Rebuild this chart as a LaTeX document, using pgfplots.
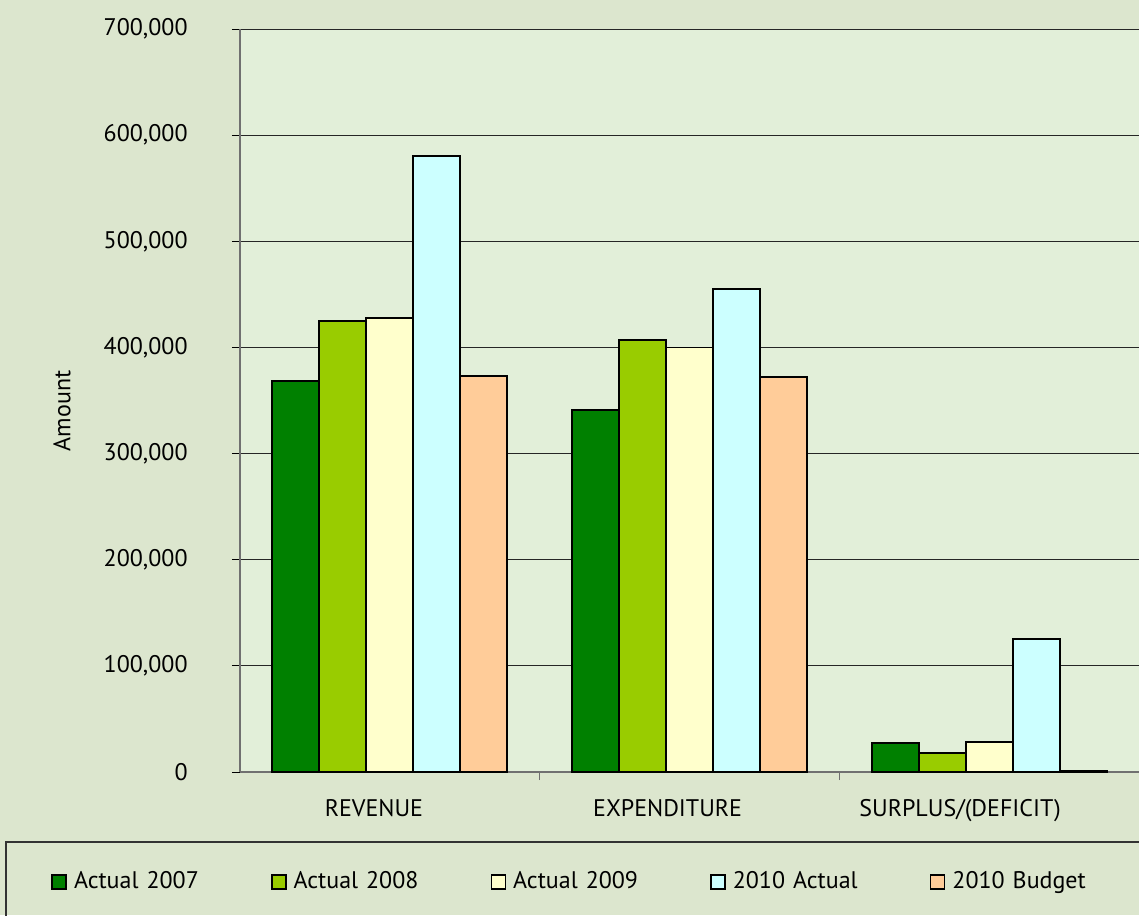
\documentclass[border=0pt]{standalone}
\usepackage{pgfplots}
\pgfplotsset{compat=1.18}
\usepackage{fontspec}
\setmainfont{PT Sans}
\definecolor{cA}{HTML}{008000}
\definecolor{cB}{HTML}{99CC00}
\definecolor{cC}{HTML}{FFFFCC}
\definecolor{cD}{HTML}{CCFFFF}
\definecolor{cE}{HTML}{FFCC99}
\definecolor{bgout}{HTML}{DCE6CE}
\definecolor{bgin}{HTML}{E2EFD9}
\definecolor{axgray}{HTML}{707070}
\pgfplotsset{/pgfplots/ybar legend/.style={/pgfplots/legend image code/.code={\draw[##1,draw=black,line width=0.8pt] (0pt,-3.5pt) rectangle (7pt,3.5pt);}}}
\begin{document}
\fontsize{12pt}{14pt}\selectfont
\begin{tikzpicture}
\fill[bgout] (0,0) rectangle (569.5pt,457.5pt);
\begin{axis}[
  at={(120pt,71.5pt)}, anchor=south west,
  scale only axis, width=449.5pt, height=371.5pt,
  axis background/.style={fill=bgin},
  ybar=0pt, bar width=23.5pt,
  xmin=-0.5, xmax=2.5, ymin=0, ymax=700000,
  axis x line*=bottom, axis y line*=left,
  axis line style={draw=axgray, line width=0.7pt},
  xtick={-0.053,0.927,1.903},
  xticklabels={REVENUE,EXPENDITURE,SURPLUS/(DEFICIT)},
  minor xtick={0.5,1.5},
  major x tick style={draw=none},
  minor x tick style={draw=axgray, line width=0.7pt},
  minor tick length=4pt,
  ytick={0,100000,...,700000},
  major tick length=4pt,
  tick align=outside,
  y tick style={draw=black, line width=0.5pt},
  ymajorgrids, grid style={draw=black!85, line width=0.5pt},
  scaled y ticks=false,
  y tick label style={/pgf/number format/fixed, /pgf/number format/1000 sep={,}, /pgf/number format/assume math mode=true, /tikz/xshift=-18pt},
  xticklabel style={yshift=-5.5pt},
  ylabel={Amount},
  ylabel style={at={(axis description cs:-0.198,0.486)}, anchor=center},
  legend columns=5,
  legend cell align=left,
  legend style={draw=none, fill=none, inner sep=0pt,
    at={(axis description cs:-0.2102,-0.148)}, anchor=west,
    nodes={inner sep=0pt, inner xsep=3.5pt, text width=72pt, align=left},
    /tikz/every even column/.append style={column sep=23pt}},
  every axis plot/.append style={draw=black, line width=0.9pt},
]
\addplot[fill=cA] coordinates {(0,368000) (1,341000) (2,27000)};
\addplot[fill=cB] coordinates {(0,425000) (1,407000) (2,18000)};
\addplot[fill=cC] coordinates {(0,428000) (1,400000) (2,28000)};
\addplot[fill=cD] coordinates {(0,580000) (1,455000) (2,125000)};
\addplot[fill=cE] coordinates {(0,373000) (1,372000) (2,1000)};
\legend{Actual 2007,Actual 2008,Actual 2009,2010 Actual,2010 Budget}
\end{axis}
\draw[draw=black!80, line width=0.6pt] (3pt,-10pt) rectangle (580pt,36.5pt);
\pgfresetboundingbox
\path[use as bounding box] (0,0) rectangle (569.5pt,457.5pt);
\end{tikzpicture}
\end{document}
